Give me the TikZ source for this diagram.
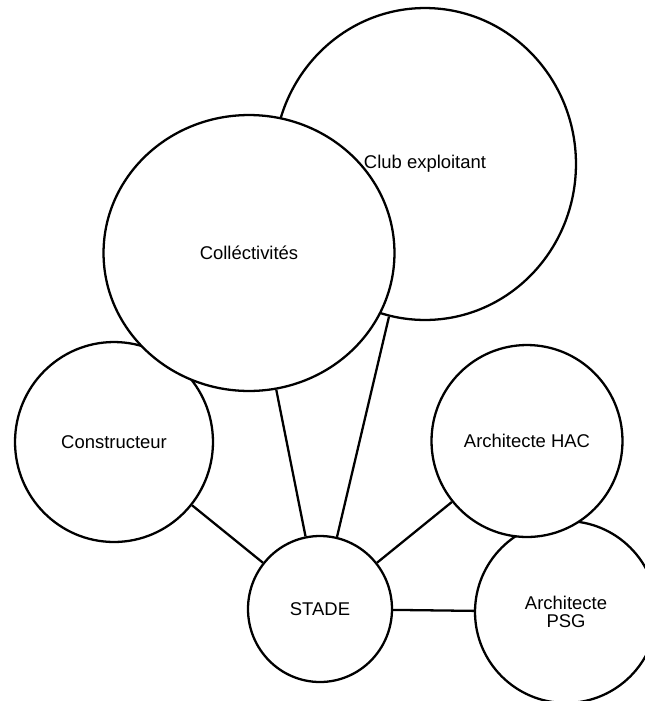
\documentclass[tikz,border=0pt]{standalone}
\usepackage{fontspec}
\setmainfont{Liberation Sans}
\usetikzlibrary{shapes.geometric}

\begin{document}
\begin{tikzpicture}[
  x=0.02cm, y=-0.02cm,
  acteur/.style={draw=black, fill=white, ellipse, line width=1.3pt,
    inner sep=0pt, align=center,
    font=\fontsize{10.5}{10.6}\selectfont},
  lien/.style={line width=1.3pt}
]
\clip (0,0) rectangle (645,701);
\node[acteur, minimum width=3.64cm, minimum height=3.64cm] (psg) at (566,612) {Architecte\\PSG};
\node[acteur, minimum width=6.04cm, minimum height=6.24cm] (club) at (425,164) {};
\node[acteur, minimum width=3.96cm, minimum height=4.0cm] (constr) at (114,442) {Constructeur};
\node[acteur, minimum width=3.82cm, minimum height=3.84cm] (hac) at (527,441) {Architecte HAC};
\node[acteur, minimum width=5.82cm, minimum height=5.52cm] (coll) at (249,253) {Colléctivités};
\node[acteur, minimum width=2.88cm, minimum height=2.92cm] (stade) at (320,609) {STADE};
\node[font=\fontsize{10.5}{10.6}\selectfont] (clubtxt) at (club) {Club exploitant};

\draw[lien] (constr) -- (stade);
\draw[lien] (coll) -- (stade);
\draw[lien] (club) -- (stade);
\draw[lien] (hac) -- (stade);
\draw[lien] (psg) -- (stade);
\end{tikzpicture}
\end{document}
